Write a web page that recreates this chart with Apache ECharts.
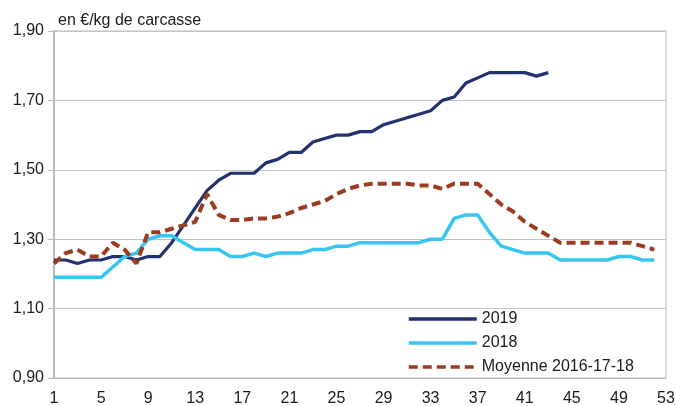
<!DOCTYPE html>
<html>
<head>
<meta charset="utf-8">
<script src="https://cdn.jsdelivr.net/npm/echarts@6/dist/echarts.min.js"></script>
<style>
  html, body { margin: 0; padding: 0; background: #fff; }
  #chart { width: 675px; height: 406px; }
</style>
</head>
<body>
<div id="chart"></div>
<script>
// semaines 1..53
const weeks = Array.from({ length: 53 }, (_, i) => String(i + 1));

const prix2019 = [
  1.24, 1.24, 1.23, 1.24, 1.24, 1.25, 1.25, 1.24, 1.25, 1.25,
  1.29, 1.34, 1.39, 1.44, 1.47, 1.49, 1.49, 1.49, 1.52, 1.53,
  1.55, 1.55, 1.58, 1.59, 1.60, 1.60, 1.61, 1.61, 1.63, 1.64,
  1.65, 1.66, 1.67, 1.70, 1.71, 1.75, 1.765, 1.78, 1.78, 1.78,
  1.78, 1.77, 1.78
];

const prix2018 = [
  1.19, 1.19, 1.19, 1.19, 1.19, 1.22, 1.25, 1.26, 1.30, 1.31,
  1.31, 1.29, 1.27, 1.27, 1.27, 1.25, 1.25, 1.26, 1.25, 1.26,
  1.26, 1.26, 1.27, 1.27, 1.28, 1.28, 1.29, 1.29, 1.29, 1.29,
  1.29, 1.29, 1.30, 1.30, 1.36, 1.37, 1.37, 1.32, 1.28, 1.27,
  1.26, 1.26, 1.26, 1.24, 1.24, 1.24, 1.24, 1.24, 1.25, 1.25,
  1.24, 1.24
];

const moyenne = [
  1.23, 1.26, 1.27, 1.25, 1.25, 1.29, 1.27, 1.23, 1.32, 1.32,
  1.33, 1.34, 1.35, 1.43, 1.37, 1.355, 1.355, 1.36, 1.36, 1.365,
  1.375, 1.39, 1.40, 1.41, 1.43, 1.445, 1.455, 1.46, 1.46, 1.46,
  1.46, 1.455, 1.455, 1.445, 1.46, 1.46, 1.46, 1.43, 1.40, 1.38,
  1.35, 1.33, 1.31, 1.29, 1.29, 1.29, 1.29, 1.29, 1.29, 1.29,
  1.28, 1.27
];

const chart = echarts.init(document.getElementById('chart'), null, { renderer: 'canvas' });
const font = '"Liberation Sans", Arial, sans-serif';
const gris = '#b9b9b9';

const option = {
  animation: false,
  backgroundColor: '#fff',
  textStyle: { fontFamily: font },
  title: {
    text: 'en €/kg de carcasse',
    left: 58,
    top: 13,
    padding: 0,
    textStyle: { fontSize: 16, fontWeight: 'normal', color: '#1a1a1a', fontFamily: font }
  },
  legend: {
    orient: 'vertical',
    left: 407,
    top: 311,
    padding: 0,
    itemWidth: 68,
    itemHeight: 14,
    itemGap: 8,
    itemStyle: { opacity: 0 },
    lineStyle: { width: 3.5 },
    data: ['2019', '2018', 'Moyenne 2016-17-18'],
    textStyle: { fontSize: 16, color: '#1a1a1a', fontFamily: font }
  },
  grid: {
    left: 54, right: 9, top: 31, bottom: 28,
    outerBoundsMode: 'none',
    containLabel: false,
    show: true, borderColor: gris, borderWidth: 1
  },
  xAxis: {
    type: 'category',
    data: weeks,
    boundaryGap: false,
    axisLine: { show: true, lineStyle: { color: gris, width: 1 } },
    axisTick: { show: false },
    axisLabel: { interval: 3, fontSize: 16, color: '#1a1a1a', margin: 13 },
    splitLine: { show: false }
  },
  yAxis: {
    type: 'value',
    min: 0.9,
    max: 1.9,
    interval: 0.2,
    axisLine: { show: true, lineStyle: { color: gris, width: 2 } },
    axisTick: { show: true, length: 6, lineStyle: { color: gris, width: 1 } },
    axisLabel: {
      fontSize: 16, color: '#1a1a1a', margin: 10,
      formatter: v => v.toFixed(2).replace('.', ',')
    },
    splitLine: { show: true, lineStyle: { color: '#c4c4c4', width: 1 } }
  },
  series: [
    {
      name: '2019',
      type: 'line',
      data: prix2019,
      symbol: 'none',
      color: '#22316f',
      lineStyle: { width: 3.2, color: '#22316f' }
    },
    {
      name: '2018',
      type: 'line',
      data: prix2018,
      symbol: 'none',
      color: '#36c6f2',
      lineStyle: { width: 3.5, color: '#36c6f2' }
    },
    {
      name: 'Moyenne 2016-17-18',
      type: 'line',
      data: moyenne,
      symbol: 'none',
      color: '#9b3b21',
      lineStyle: { width: 4, color: '#9b3b21', type: [9, 5], cap: 'butt' }
    }
  ]
};

chart.setOption(option);
</script>
</body>
</html>
